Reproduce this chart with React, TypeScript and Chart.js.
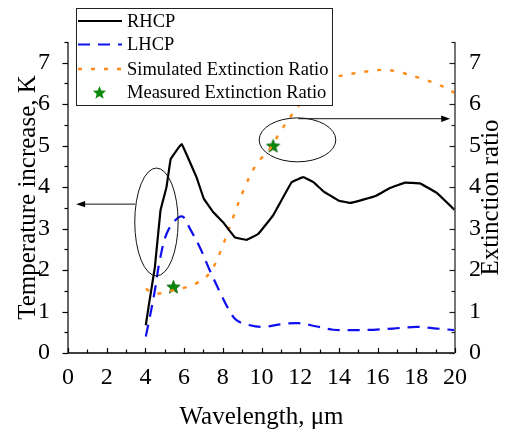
import React, { useEffect, useRef } from 'react';
import { Chart, registerables } from 'chart.js';

Chart.register(...registerables);

// ---- data ----
const rhcpX = [4.02, 4.19, 4.49, 4.78, 5.09, 5.31, 5.87, 6.64, 7.02, 7.5, 8.02, 8.62, 9.23, 9.83, 10.6, 11.56, 12.16, 12.68, 13.2, 13.97, 14.57, 15.26, 15.95, 16.64, 17.42, 18.19, 19.06, 20];
const rhcpY = [0.67, 1.19, 2.07, 3.44, 4.0, 4.68, 5.04, 4.24, 3.72, 3.4, 3.15, 2.79, 2.73, 2.87, 3.32, 4.12, 4.24, 4.12, 3.9, 3.68, 3.62, 3.7, 3.8, 3.98, 4.11, 4.09, 3.86, 3.44];

const lhcpX = [4.02, 4.23, 4.49, 4.74, 5.09, 5.52, 5.92, 6.3, 6.81, 7.33, 7.85, 8.28, 8.71, 9.4, 10.09, 10.95, 11.9, 12.85, 13.71, 14.57, 15.78, 16.81, 18.02, 19.06, 20];
const lhcpY = [0.4, 0.87, 1.51, 2.23, 2.87, 3.19, 3.29, 3.0, 2.55, 1.99, 1.47, 1.07, 0.79, 0.67, 0.63, 0.69, 0.72, 0.64, 0.56, 0.55, 0.56, 0.59, 0.63, 0.59, 0.55];

const simX = [4.02, 4.49, 5.43, 6.12, 6.9, 7.42, 7.93, 8.54, 9.14, 9.75, 10.43, 10.95, 11.47, 11.99, 12.67, 13.54, 14.74, 15.43, 16.38, 17.16, 18.19, 19.06, 20];
const simY = [1.55, 1.43, 1.51, 1.59, 1.75, 1.99, 2.51, 3.28, 4.0, 4.56, 4.92, 5.32, 5.68, 6.0, 6.33, 6.61, 6.74, 6.79, 6.83, 6.77, 6.63, 6.49, 6.27];

const measX = [5.45, 10.6];
const measY = [1.6, 5.0];

const xTicks = [0, 2, 4, 6, 8, 10, 12, 14, 16, 18, 20];
const yTicks = [0, 1, 2, 3, 4, 5, 6, 7];

const seriesLabels = ['RHCP', 'LHCP', 'Simulated Extinction Ratio', 'Measured Extinction Ratio'];
const xTitle = 'Wavelength, \u03bcm';
const yTitle = 'Temperature increase, K';
const y2Title = 'Extinction ratio';

// annotation: ellipses [cx, cy, rx, ry] in data units, arrows [x0, x1, y]
const ellipseLeft = [4.57, 3.16, 1.12, 1.3];
const arrowLeft = [3.47, 0.42, 3.59];
const ellipseRight = [11.86, 5.14, 1.98, 0.53];
const arrowRight = [11.9, 19.75, 5.65];

const SERIF = "'Liberation Serif', 'Times New Roman', serif";
const GREEN = '#0a8a0a';

function drawStarPath(g: CanvasRenderingContext2D, cx: number, cy: number, ro: number, ri: number) {
  g.beginPath();
  for (let i = 0; i < 10; i++) {
    const r = i % 2 === 0 ? ro : ri;
    const a = -Math.PI / 2 + (i * Math.PI) / 5;
    const px = cx + r * Math.cos(a);
    const py = cy + r * Math.sin(a);
    if (i === 0) g.moveTo(px, py);
    else g.lineTo(px, py);
  }
  g.closePath();
}

function makeStar(size: number) {
  const c = document.createElement('canvas');
  c.width = size;
  c.height = size;
  const g = c.getContext('2d')!;
  drawStarPath(g, size / 2, size / 2 + size * 0.05, size / 2 - 0.5, (size / 2 - 0.5) * 0.42);
  g.fillStyle = GREEN;
  g.fill();
  g.strokeStyle = '#056005';
  g.lineWidth = 0.8;
  g.stroke();
  return c;
}

const decor = {
  id: 'decor',
  afterDatasetsDraw(chart: any) {
    const { ctx, chartArea: a, scales } = chart;
    const x = scales.x;
    const y = scales.y;
    ctx.save();
    // axis lines
    ctx.strokeStyle = '#000';
    ctx.lineWidth = 1.2;
    ctx.beginPath();
    ctx.moveTo(a.left, a.top);
    ctx.lineTo(a.left, a.bottom);
    ctx.stroke();
    ctx.lineWidth = 1.5;
    ctx.beginPath();
    ctx.moveTo(a.left, a.bottom);
    ctx.lineTo(a.right, a.bottom);
    ctx.stroke();
    ctx.strokeStyle = '#666';
    ctx.lineWidth = 1.8;
    ctx.beginPath();
    ctx.moveTo(a.right, a.top);
    ctx.lineTo(a.right, a.bottom);
    ctx.stroke();

    // ticks
    ctx.lineWidth = 1.2;
    for (let v = y.min; v <= y.max + 1e-9; v += 0.5) {
      const major = Math.abs(v - Math.round(v)) < 1e-9;
      const py = Math.round(y.getPixelForValue(v)) + 0.5;
      const len = major ? 5.5 : 3.5;
      ctx.strokeStyle = '#000';
      ctx.beginPath();
      ctx.moveTo(a.left - len, py);
      ctx.lineTo(a.left, py);
      ctx.stroke();
      ctx.strokeStyle = '#222';
      ctx.beginPath();
      ctx.moveTo(a.right - len, py);
      ctx.lineTo(a.right, py);
      ctx.stroke();
    }
    ctx.strokeStyle = '#000';
    for (let v = x.min; v <= x.max + 1e-9; v += 1) {
      const major = Math.round(v) % 2 === 0;
      const px = Math.round(x.getPixelForValue(v)) + 0.5;
      const len = major ? 5 : 3.5;
      ctx.beginPath();
      ctx.moveTo(px, a.bottom);
      ctx.lineTo(px, a.bottom - len);
      ctx.stroke();
    }

    // ellipses & arrows
    ctx.strokeStyle = '#111';
    ctx.lineWidth = 1;
    const ell = (e: number[]) => {
      const cx = x.getPixelForValue(e[0]);
      const cy = y.getPixelForValue(e[1]);
      const rx = Math.abs(x.getPixelForValue(e[0] + e[2]) - cx);
      const ry = Math.abs(y.getPixelForValue(e[1] + e[3]) - cy);
      ctx.beginPath();
      ctx.ellipse(cx, cy, rx, ry, 0, 0, Math.PI * 2);
      ctx.stroke();
    };
    ell(ellipseLeft);
    ell(ellipseRight);
    const arrow = (ar: number[]) => {
      const x0 = x.getPixelForValue(ar[0]);
      const x1 = x.getPixelForValue(ar[1]);
      const py = y.getPixelForValue(ar[2]);
      const dir = x1 > x0 ? 1 : -1;
      ctx.beginPath();
      ctx.moveTo(x0, py);
      ctx.lineTo(x1 - dir * 6, py);
      ctx.stroke();
      ctx.fillStyle = '#000';
      ctx.beginPath();
      ctx.moveTo(x1, py);
      ctx.lineTo(x1 - dir * 9, py - 3.2);
      ctx.lineTo(x1 - dir * 9, py + 3.2);
      ctx.closePath();
      ctx.fill();
    };
    arrow(arrowLeft);
    arrow(arrowRight);
    ctx.restore();
  },
  afterDraw(chart: any) {
    const { ctx, chartArea: a } = chart;
    ctx.save();
    // right axis title, reading bottom-to-top
    ctx.fillStyle = '#000';
    ctx.font = `25px ${SERIF}`;
    ctx.textAlign = 'center';
    ctx.textBaseline = 'middle';
    ctx.translate(491.5, (a.top + a.bottom) / 2);
    ctx.rotate(-Math.PI / 2);
    ctx.fillText(y2Title, 0, 0);
    ctx.restore();

    // legend
    ctx.save();
    const bx = 76.5, by = 8.5, bw = 256, bh = 97;
    ctx.fillStyle = '#fff';
    ctx.fillRect(bx, by, bw, bh);
    ctx.strokeStyle = '#222';
    ctx.lineWidth = 1;
    ctx.strokeRect(bx, by, bw, bh);
    const rows = [21, 44.5, 69, 92.5];
    const ds = chart.data.datasets;
    ctx.font = `18.5px ${SERIF}`;
    ctx.textAlign = 'left';
    ctx.textBaseline = 'middle';
    for (let i = 0; i < 4; i++) {
      const ry = rows[i];
      const d = ds[i];
      if (i < 3) {
        ctx.strokeStyle = d.borderColor;
        ctx.lineWidth = d.borderWidth;
        ctx.setLineDash(d.borderDash || []);
        ctx.beginPath();
        ctx.moveTo(78, ry);
        ctx.lineTo(122, ry);
        ctx.stroke();
        ctx.setLineDash([]);
      } else {
        drawStarPath(ctx, 99.5, ry + 0.5, 7, 3);
        ctx.fillStyle = GREEN;
        ctx.fill();
      }
      ctx.fillStyle = '#000';
      ctx.fillText(seriesLabels[i], 127, ry + 1);
    }
    ctx.restore();
  },
};

export default function App() {
  const ref = useRef<HTMLCanvasElement | null>(null);
  useEffect(() => {
    if (!ref.current) return;
    const star = makeStar(15);
    const pts = (xs: number[], ys: number[]) => xs.map((v, i) => ({ x: v, y: ys[i] }));
    const tickFont = { family: SERIF, size: 24 };
    const chart = new Chart(ref.current, {
      type: 'line',
      data: {
        datasets: [
          {
            label: seriesLabels[0],
            data: pts(rhcpX, rhcpY),
            borderColor: '#000',
            borderWidth: 2.2,
            pointRadius: 0,
            tension: 0.05,
            yAxisID: 'y',
          },
          {
            label: seriesLabels[1],
            data: pts(lhcpX, lhcpY),
            borderColor: '#1010ee',
            borderWidth: 2.2,
            borderDash: [12, 8],
            pointRadius: 0,
            tension: 0.35,
            yAxisID: 'y',
          },
          {
            label: seriesLabels[2],
            data: pts(simX, simY),
            borderColor: '#ff8c1a',
            borderWidth: 2.4,
            borderDash: [4, 9],
            pointRadius: 0,
            tension: 0.35,
            yAxisID: 'y2',
          },
          {
            label: seriesLabels[3],
            data: pts(measX, measY),
            showLine: false,
            pointStyle: star as any,
            pointRadius: 7,
            borderColor: GREEN,
            backgroundColor: GREEN,
            yAxisID: 'y2',
          },
        ] as any,
      },
      options: {
        animation: false,
        responsive: false,
        layout: { padding: { top: 42, left: 0, right: 0, bottom: 0 } },
        plugins: { legend: { display: false }, tooltip: { enabled: false } },
        scales: {
          x: {
            type: 'linear',
            min: 0,
            max: 20,
            grid: { display: false },
            border: { display: false },
            afterFit: (s: any) => { s.height = 80; },
            afterBuildTicks: (s: any) => { s.ticks = xTicks.map((v) => ({ value: v })); },
            ticks: { font: tickFont, color: '#000', padding: 2, maxRotation: 0, autoSkip: false },
            title: { display: true, text: xTitle, color: '#000', font: { family: SERIF, size: 25 }, padding: { top: 0, bottom: 1 } },
          },
          y: {
            type: 'linear',
            position: 'left',
            min: 0,
            max: 7.5,
            grid: { display: false },
            border: { display: false },
            afterFit: (s: any) => { s.width = 68; },
            afterBuildTicks: (s: any) => { s.ticks = yTicks.map((v) => ({ value: v })); },
            ticks: { font: tickFont, color: '#000', padding: 10 },
            title: { display: true, text: yTitle, color: '#000', font: { family: SERIF, size: 25 }, padding: { top: 13, bottom: 0 } },
          },
          y2: {
            type: 'linear',
            position: 'right',
            min: 0,
            max: 7.5,
            grid: { display: false },
            border: { display: false },
            afterFit: (s: any) => { s.width = 50; },
            afterBuildTicks: (s: any) => { s.ticks = yTicks.map((v) => ({ value: v })); },
            ticks: { font: tickFont, color: '#000', padding: 6 },
          },
        },
      } as any,
      plugins: [decor as any],
    });
    return () => chart.destroy();
  }, []);
  return (
    <div style={{ position: 'fixed', left: 0, top: 0, width: 505, height: 433, background: '#fff' }}>
      <canvas ref={ref} width={505} height={433} style={{ display: 'block' }} />
    </div>
  );
}
